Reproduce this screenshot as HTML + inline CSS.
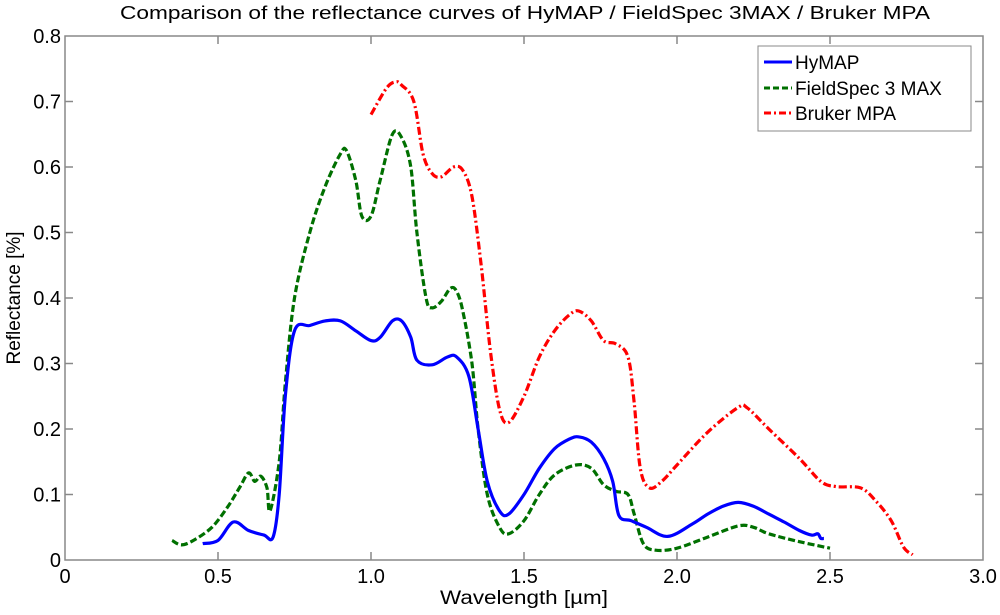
<!DOCTYPE html>
<html><head><meta charset="utf-8"><style>
body{margin:0;background:#fff;}
svg text{font-family:"Liberation Sans",sans-serif;fill:#000;}
</style></head><body>
<svg id="chart" width="1000" height="610" xmlns="http://www.w3.org/2000/svg">
<text x="525" y="19" font-size="18" text-anchor="middle" textLength="810" lengthAdjust="spacingAndGlyphs">Comparison of the reflectance curves of HyMAP / FieldSpec 3MAX / Bruker MPA</text>
<rect x="65" y="36" width="918" height="524" fill="none" stroke="#888" stroke-width="1.5"/>
<g id="ticks"></g>
<g id="series"></g>
<text x="524" y="604" font-size="19" text-anchor="middle" textLength="168" lengthAdjust="spacingAndGlyphs">Wavelength [µm]</text>
<text transform="translate(20,298) rotate(-90)" font-size="19" text-anchor="middle">Reflectance [%]</text>
<g>
<rect x="758" y="46" width="213" height="85" fill="#fff" stroke="#888" stroke-width="1"/>
<line x1="764" y1="62" x2="792" y2="62" stroke="#0000ff" stroke-width="3"/>
<text x="795" y="69" font-size="19">HyMAP</text>
<line x1="764" y1="88" x2="792" y2="88" stroke="#007000" stroke-width="3" stroke-dasharray="6,3"/>
<text x="795" y="95" font-size="19">FieldSpec 3 MAX</text>
<line x1="764" y1="113" x2="792" y2="113" stroke="#ff0000" stroke-width="3" stroke-dasharray="7,3,2,3"/>
<text x="795" y="120" font-size="19">Bruker MPA</text>
</g>
</svg>
<script>
const xTicks=[0,0.5,1.0,1.5,2.0,2.5,3.0];
const xTickLabels=["0","0.5","1.0","1.5","2.0","2.5","3.0"];
const yTicks=[0,0.1,0.2,0.3,0.4,0.5,0.6,0.7,0.8];
const yTickLabels=["0","0.1","0.2","0.3","0.4","0.5","0.6","0.7","0.8"];
const hymapX=[0.45,0.5,0.55,0.6,0.65,0.68,0.7,0.72,0.75,0.8,0.85,0.9,0.95,1.0,1.03,1.07,1.1,1.13,1.15,1.2,1.25,1.28,1.32,1.35,1.38,1.42,1.45,1.5,1.55,1.6,1.65,1.68,1.72,1.76,1.79,1.81,1.85,1.9,1.97,2.05,2.1,2.15,2.2,2.25,2.3,2.35,2.4,2.44,2.46,2.47,2.48];
const hymapY=[0.025,0.03,0.058,0.045,0.038,0.035,0.1,0.25,0.35,0.358,0.365,0.365,0.35,0.335,0.34,0.365,0.365,0.34,0.305,0.298,0.31,0.31,0.28,0.2,0.12,0.075,0.07,0.1,0.14,0.17,0.185,0.188,0.18,0.155,0.12,0.068,0.06,0.05,0.036,0.055,0.07,0.082,0.088,0.082,0.07,0.058,0.045,0.038,0.04,0.033,0.033];
const fieldX=[0.35,0.38,0.42,0.48,0.53,0.57,0.6,0.62,0.64,0.66,0.67,0.7,0.72,0.75,0.8,0.85,0.9,0.92,0.95,0.97,1.0,1.03,1.07,1.1,1.13,1.15,1.18,1.2,1.23,1.26,1.28,1.3,1.33,1.35,1.38,1.42,1.45,1.5,1.55,1.6,1.67,1.72,1.76,1.8,1.84,1.86,1.89,1.93,2.0,2.1,2.2,2.25,2.3,2.4,2.5];
const fieldY=[0.03,0.023,0.03,0.05,0.08,0.11,0.133,0.12,0.128,0.11,0.075,0.15,0.27,0.4,0.5,0.57,0.62,0.625,0.58,0.525,0.525,0.58,0.65,0.645,0.6,0.5,0.4,0.385,0.395,0.415,0.41,0.38,0.3,0.2,0.1,0.05,0.04,0.06,0.1,0.13,0.145,0.14,0.115,0.105,0.1,0.07,0.025,0.015,0.018,0.035,0.052,0.05,0.04,0.028,0.018];
const brukerX=[1.0,1.05,1.08,1.1,1.14,1.17,1.2,1.23,1.27,1.3,1.33,1.36,1.39,1.42,1.45,1.5,1.55,1.6,1.65,1.68,1.72,1.76,1.8,1.84,1.86,1.88,1.91,1.95,2.0,2.1,2.2,2.23,2.3,2.4,2.47,2.52,2.6,2.65,2.7,2.74,2.77];
const brukerY=[0.68,0.72,0.73,0.725,0.7,0.62,0.59,0.585,0.6,0.595,0.555,0.45,0.32,0.23,0.21,0.25,0.31,0.35,0.375,0.38,0.365,0.335,0.33,0.31,0.24,0.14,0.11,0.12,0.145,0.195,0.233,0.232,0.2,0.155,0.12,0.112,0.11,0.09,0.06,0.02,0.008];

const NS="http://www.w3.org/2000/svg";
const X0=65,X1=983,Y0=560,Y1=36;
function sx(v){return X0+(v-0)/(3-0)*(X1-X0);}
function sy(v){return Y0-(v-0)/(0.8-0)*(Y0-Y1);}
const tg=document.getElementById('ticks');
function mk(tag,attrs,parent){const e=document.createElementNS(NS,tag);for(const k in attrs)e.setAttribute(k,attrs[k]);parent.appendChild(e);return e;}
xTicks.forEach((v,i)=>{
  const x=sx(v);
  if(i>0&&i<xTicks.length-1){
    mk('line',{x1:x,y1:Y0,x2:x,y2:Y0-8,stroke:'#888','stroke-width':1.5},tg);
    mk('line',{x1:x,y1:Y1,x2:x,y2:Y1+8,stroke:'#888','stroke-width':1.5},tg);
  }
  const t=mk('text',{x:x,y:Y0+23,'font-size':20,'text-anchor':'middle'},tg);
  t.textContent=xTickLabels[i];
  
  
});
yTicks.forEach((v,i)=>{
  const y=sy(v);
  if(i>0&&i<yTicks.length-1){
    mk('line',{x1:X0,y1:y,x2:X0+8,y2:y,stroke:'#888','stroke-width':1.5},tg);
    mk('line',{x1:X1,y1:y,x2:X1-8,y2:y,stroke:'#888','stroke-width':1.5},tg);
  }
  const t=mk('text',{x:X0-4,y:y+7,'font-size':20,'text-anchor':'end'},tg);
  t.textContent=yTickLabels[i];
  
  
});
const sg=document.getElementById('series');
function line(xs,ys,color,dash,name){
  const P=xs.map((v,i)=>[sx(v),sy(ys[i])]);
  let d='M'+P[0][0].toFixed(1)+','+P[0][1].toFixed(1);
  for(let i=0;i<P.length-1;i++){
    const p0=P[Math.max(i-1,0)],p1=P[i],p2=P[i+1],p3=P[Math.min(i+2,P.length-1)];
    const c1=[p1[0]+(p2[0]-p0[0])/6,p1[1]+(p2[1]-p0[1])/6];
    const c2=[p2[0]-(p3[0]-p1[0])/6,p2[1]-(p3[1]-p1[1])/6];
    d+=' C'+c1.map(n=>n.toFixed(1)).join(',')+' '+c2.map(n=>n.toFixed(1)).join(',')+' '+p2.map(n=>n.toFixed(1)).join(',');
  }
  const p=mk('path',{d:d,fill:'none',stroke:color,'stroke-width':3.2,'stroke-linejoin':'round'},sg);
  if(dash)p.setAttribute('stroke-dasharray',dash);
  
  
}
line(brukerX,brukerY,'#ff0000','8,3,2,3','bruker-line');
line(fieldX,fieldY,'#007000','7,3','fieldspec-line');
line(hymapX,hymapY,'#0000ff',null,'hymap-line');
</script>
</body></html>
